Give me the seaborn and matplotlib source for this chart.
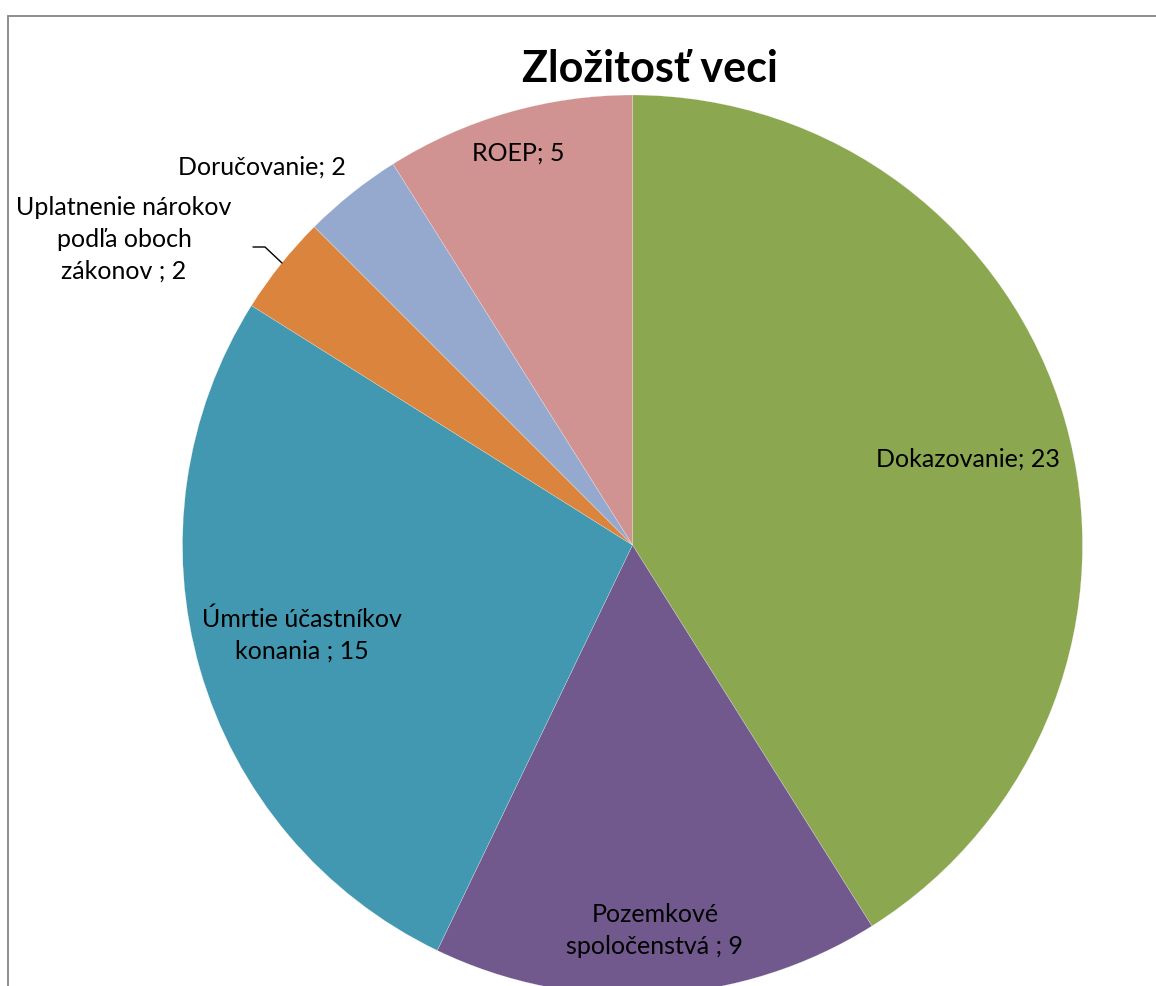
import matplotlib
matplotlib.use("Agg")
import matplotlib.pyplot as plt
from matplotlib.lines import Line2D
import seaborn as sns

# ---- data ----
categories = ["Dokazovanie", "Pozemkové spoločenstvá", "Úmrtie účastníkov konania",
              "Uplatnenie nárokov podľa oboch zákonov", "Doručovanie", "ROEP"]
values = [23, 9, 15, 2, 2, 5]
label_texts = ["Dokazovanie; 23", "Pozemkové\nspoločenstvá ; 9", "Úmrtie účastníkov\nkonania ; 15",
               "Uplatnenie nárokov\npodľa oboch\nzákonov ; 2", "Doručovanie; 2", "ROEP; 5"]
title = "Zložitosť veci"
colors = ["#8BA750", "#72598D", "#4298B0", "#DA843E", "#95A9CF", "#D19292"]

# ---- layout (pixel based) ----
W, H = 1156, 986
sns.set_theme(style="white")
plt.rcParams["font.family"] = ["Lato", "DejaVu Sans"]

fig = plt.figure(figsize=(W / 100, H / 100), dpi=100)
ax = fig.add_axes([0, 0, 1, 1])
palette = sns.color_palette(colors)

cx, cy, R = 632.5, H - 545, 450
ax.pie(values, colors=palette, startangle=90, counterclock=False,
       center=(cx, cy), radius=R,
       wedgeprops=dict(edgecolor="white", linewidth=0.15))
ax.set_xlim(0, W)
ax.set_ylim(0, H)
ax.set_aspect("equal", adjustable="box")
ax.axis("off")

# label anchor positions (center x, first baseline y in image pixels)
label_pos = [(968, 467), (655, 922), (302, 627), (124, 215), (262, 175), (518, 161)]
line_step = 32
fs = 18
for txt, (lx, ly) in zip(label_texts, label_pos):
    for i, line in enumerate(txt.split("\n")):
        ax.text(lx, H - (ly + i * line_step), line, ha="center", va="baseline",
                fontsize=fs, color="black")

# leader line for small slice label
lead_x = [253, 265, 282]
lead_y = [247, 247, 263]
ax.add_line(Line2D(lead_x, [H - v for v in lead_y], color="black", lw=1.0))

# title
ax.text(650, H - 82, title, ha="center", va="baseline", fontsize=31,
        fontweight="bold", color="black")

# chart area frame (top and left edges visible)
fig.add_artist(Line2D([7.5 / W, 1.0], [1 - 15.5 / H, 1 - 15.5 / H],
                      transform=fig.transFigure, color="#868686", lw=1.3))
fig.add_artist(Line2D([7.5 / W, 7.5 / W], [0, 1 - 15.5 / H],
                      transform=fig.transFigure, color="#868686", lw=1.3))

fig.savefig("out.png", dpi=100, facecolor="white")
